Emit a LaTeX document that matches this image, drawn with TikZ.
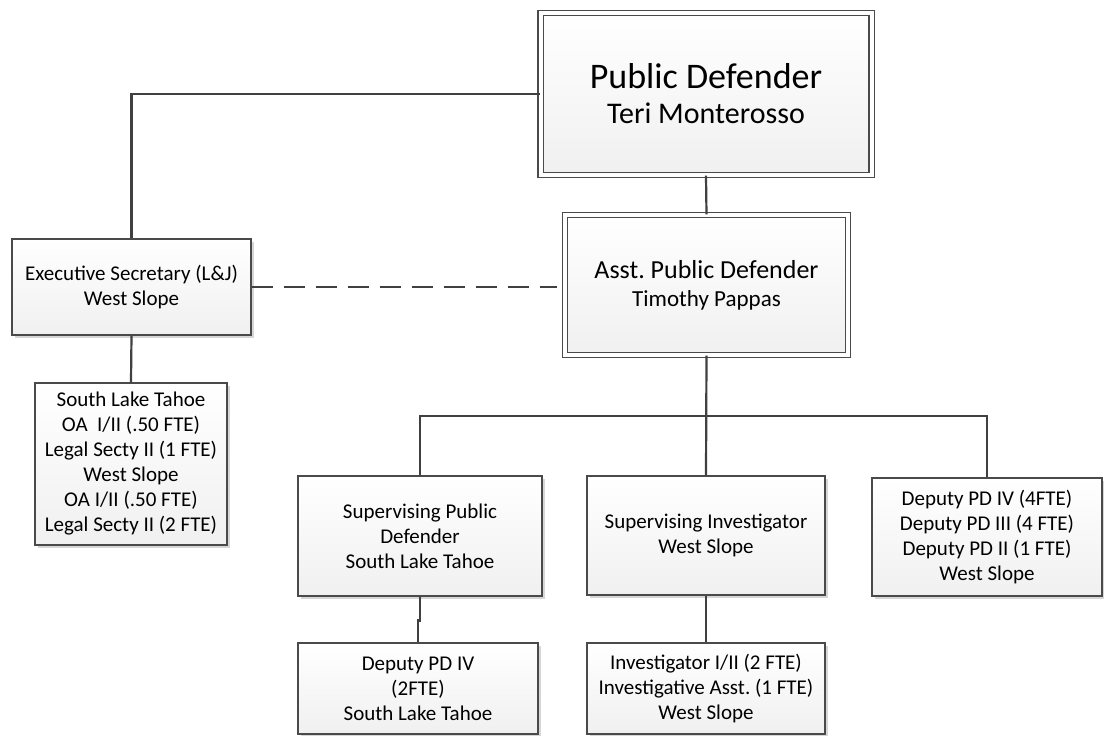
\documentclass[tikz,border=0pt]{standalone}
\usepackage{fontspec}
\setmainfont{Carlito}
\usepackage{xcolor}
\usetikzlibrary{shadows}
\definecolor{boxline}{HTML}{4A4A4A}
\definecolor{wire}{HTML}{404040}
\definecolor{boxfill}{HTML}{F0F0F0}
\definecolor{shade}{HTML}{D6D6D6}
\frenchspacing
\begin{document}
\begin{tikzpicture}[x=1pt,y=-1pt,
  box/.style={draw=boxline,line width=1.1pt,top color=white,bottom color=boxfill,
    align=center,inner sep=0pt,font=\fontsize{21}{25}\selectfont,
    drop shadow={shadow xshift=3pt,shadow yshift=-3pt,fill=shade,opacity=1}},
  dbox/.style={box,line width=1.1pt,double=white,double distance=4pt},
  wire/.style={draw=wire,line width=2.2pt}]
  \path[use as bounding box,fill=white] (0,0) rectangle (1104,736);
  \node [dbox,minimum width=331pt,minimum height=162pt] (pd) at (706,94)
    {{\fontsize{36}{40}\selectfont Public Defender}\\[10pt]{\fontsize{30}{34}\selectfont Teri Monterosso}};
  \node [dbox,minimum width=283pt,minimum height=140pt] (apd) at (706.5,285)
    {{\fontsize{26}{30}\selectfont Asst. Public Defender}\\[3pt]{\fontsize{23}{27}\selectfont Timothy Pappas}};
  \node [box,minimum width=239pt,minimum height=96pt] (exs) at (131.5,287)
    {Executive Secretary (L\&J)\\West Slope};
  \node [box,minimum width=192pt,minimum height=162pt] (lgl) at (131,464)
    {South Lake Tahoe\\OA\ \ I/II (.50 FTE)\\Legal Secty II (1 FTE)\\West Slope\\OA I/II (.50 FTE)\\Legal Secty II (2 FTE)};
  \node [box,minimum width=244pt,minimum height=120pt] (spd) at (420,536)
    {Supervising Public\\Defender\\South Lake Tahoe};
  \node [box,minimum width=238pt,minimum height=119pt] (sinv) at (706,535.5)
    {Supervising Investigator\\West Slope};
  \node [box,minimum width=230pt,minimum height=118pt] (dpw) at (987,537)
    {Deputy PD IV (4FTE)\\Deputy PD III (4 FTE)\\Deputy PD II (1 FTE)\\West Slope};
  \node [box,minimum width=240pt,minimum height=91pt] (dps) at (418,688.5)
    {Deputy PD IV\\(2FTE)\\South Lake Tahoe};
  \node [box,minimum width=238pt,minimum height=91pt] (inv) at (706,688.5)
    {Investigator I/II (2 FTE)\\Investigative Asst. (1 FTE)\\West Slope};
  \coordinate (bus) at (706,416);
  % connectors
  \draw [wire] (pd.west) -| (exs.north);
  \draw [wire] (pd.south) -- (apd.north);
  \draw [wire,dash pattern=on 21pt off 11pt,shorten >=7pt] (exs.east) -- (exs.east -| apd.west);
  \draw [wire] (exs.south) -- (lgl.north);
  \draw [wire] (apd.south) -- (sinv.north);
  \draw [wire] (spd.north) |- (bus) -| (dpw.north);
  \draw [wire] (spd.south) -- ++(0,24) -| (dps.north);
  \draw [wire] (sinv.south) -- (inv.north);
\end{tikzpicture}
\end{document}
